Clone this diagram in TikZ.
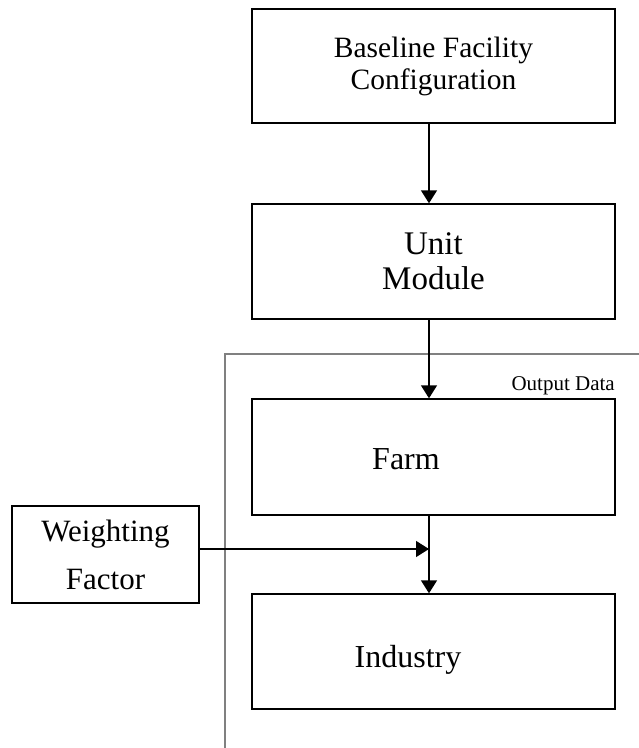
\documentclass[tikz,border=0pt]{standalone}
\usepackage{fontspec}
\setmainfont{Liberation Serif}
\usetikzlibrary{arrows.meta}
\begin{document}
\begin{tikzpicture}[x=1pt,y=-1pt,
  box/.style={draw=black,line width=1.4pt,rectangle,inner sep=0pt,align=center},
  arr/.style={draw=black,line width=1.4pt,-{Triangle[length=13pt,width=16pt]}},
  frame/.style={draw=black!50,line width=1.5pt},
  txt/.style={inner sep=0pt}]
\useasboundingbox (0,0) rectangle (639,748);
\node[box,minimum width=363pt,minimum height=114pt,font=\fontsize{29.5}{32}\selectfont] (base) at (433.5,66) {Baseline Facility\\Configuration};
\node[box,minimum width=363pt,minimum height=115pt,font=\fontsize{33}{35}\selectfont] (unit) at (433.5,261.5) {Unit\\Module};
\draw[frame] (225,748) -- (225,354) -- (639,354);
\node[txt,anchor=base east,font=\fontsize{21}{24}\selectfont] (out) at (615,390) {Output Data};
\node[box,minimum width=363pt,minimum height=116pt] (farm) at (433.5,457) {};
\node[txt,anchor=base,font=\fontsize{32}{35}\selectfont] (farmt) at (406,469) {Farm};
\node[box,minimum width=363pt,minimum height=115pt] (ind) at (433.5,651.5) {};
\node[txt,anchor=base,font=\fontsize{32}{35}\selectfont] (indt) at (408,667) {Industry};
\node[box,minimum width=187pt,minimum height=97pt,font=\fontsize{31}{48}\selectfont] (wf) at (105.5,554.5) {Weighting\\Factor};
\coordinate (j) at (429,549);
\draw[arr] ([xshift=-4.5pt]base.south) -- ([xshift=-4.5pt]unit.north);
\draw[arr] ([xshift=-4.5pt]unit.south) -- ([xshift=-4.5pt]farm.north);
\draw[arr] ([xshift=-4.5pt]farm.south) -- ([xshift=-4.5pt]ind.north);
\draw[arr] (wf.east |- j) -- (j);
\end{tikzpicture}
\end{document}
